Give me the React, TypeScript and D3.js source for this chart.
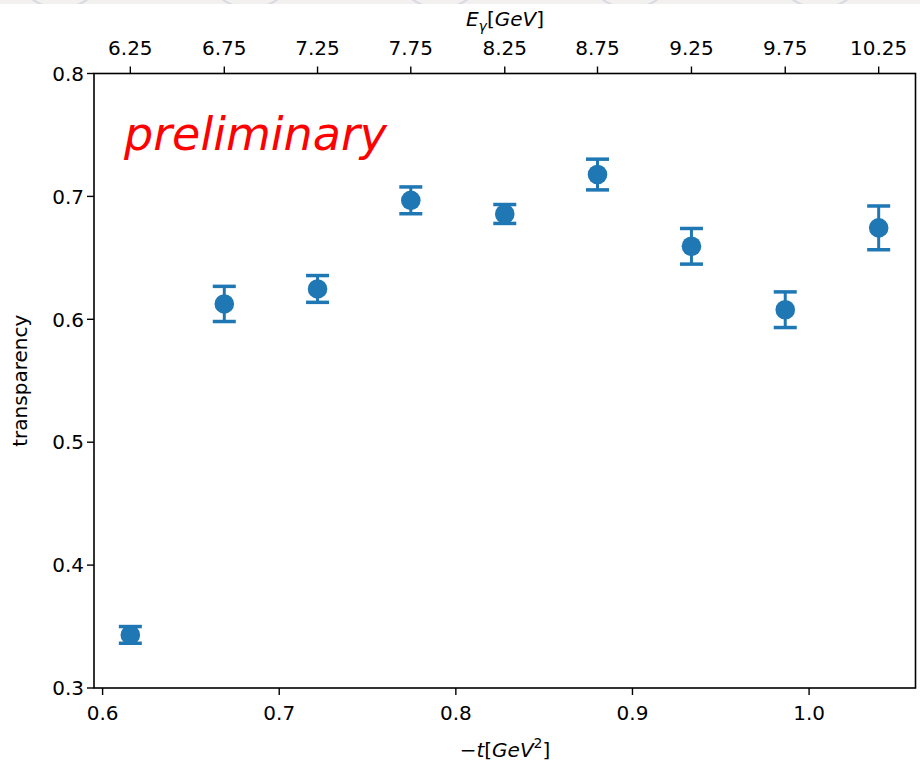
import React from "react";
import * as d3 from "d3";

const tValues = [0.6157, 0.6689, 0.7217, 0.7745, 0.8277, 0.8802, 0.9334, 0.9865, 1.0394];
const transparency = [0.3432, 0.6125, 0.6247, 0.6968, 0.6857, 0.7178, 0.6594, 0.6078, 0.6744];
const errors = [0.0068, 0.0143, 0.0109, 0.0109, 0.0077, 0.0125, 0.0145, 0.0145, 0.0178];
const energyLabels = ["6.25", "6.75", "7.25", "7.75", "8.25", "8.75", "9.25", "9.75", "10.25"];
const xTicks = [0.6, 0.7, 0.8, 0.9, 1.0];
const yTicks = [0.3, 0.4, 0.5, 0.6, 0.7, 0.8];

const W = 920;
const H = 768;
const left = 94;
const right = 915.5;
const top = 73.5;
const bottom = 688;
const FONT = "'DejaVu Sans', sans-serif";
const BLUE = "#1f77b4";

export default function App() {
  const x = d3.scaleLinear().domain([0.59513, 1.06025]).range([left, right]);
  const y = d3.scaleLinear().domain([0.3, 0.8]).range([bottom, top]);
  const fmt = d3.format(".1f");

  const bgCircles = [60, 250, 440, 630, 820];

  return (
    <svg
      width={W}
      height={H}
      viewBox={`0 0 ${W} ${H}`}
      style={{ position: "absolute", left: 0, top: 0, background: "#fff" }}
    >
      <defs>
        <clipPath id="band">
          <rect x={0} y={0} width={W} height={4} />
        </clipPath>
      </defs>
      <rect x={0} y={0} width={W} height={4} fill="#f2f1ef" />
      <g clipPath="url(#band)">
        {bgCircles.map((cx, i) => (
          <circle key={i} cx={cx} cy={-40} r={48} fill="none" stroke="#d9d9e3" strokeWidth={2} />
        ))}
      </g>

      {/* error bars and markers */}
      {tValues.map((t, i) => {
        const cx = x(t);
        const cy = y(transparency[i]);
        const y1 = y(transparency[i] + errors[i]);
        const y2 = y(transparency[i] - errors[i]);
        return (
          <g key={i}>
            <line x1={cx} x2={cx} y1={y1} y2={y2} stroke={BLUE} strokeWidth={3} />
            <line x1={cx - 11.5} x2={cx + 11.5} y1={y1} y2={y1} stroke={BLUE} strokeWidth={3.5} />
            <line x1={cx - 11.5} x2={cx + 11.5} y1={y2} y2={y2} stroke={BLUE} strokeWidth={3.5} />
            <circle cx={cx} cy={cy} r={9.8} fill={BLUE} />
          </g>
        );
      })}

      {/* spines */}
      <rect
        x={left}
        y={top}
        width={right - left}
        height={bottom - top}
        fill="none"
        stroke="#000"
        strokeWidth={1.6}
      />

      {/* bottom axis */}
      {xTicks.map((v) => (
        <g key={v}>
          <line x1={x(v)} x2={x(v)} y1={bottom} y2={bottom + 7} stroke="#000" strokeWidth={1.4} />
          <text x={x(v)} y={720} textAnchor="middle" fontFamily={FONT} fontSize={20} fill="#000">
            {fmt(v)}
          </text>
        </g>
      ))}

      {/* left axis */}
      {yTicks.map((v) => (
        <g key={v}>
          <line x1={left - 7} x2={left} y1={y(v)} y2={y(v)} stroke="#000" strokeWidth={1.4} />
          <text
            x={left - 10}
            y={y(v)}
            dy="0.36em"
            textAnchor="end"
            fontFamily={FONT}
            fontSize={20}
            fill="#000"
          >
            {fmt(v)}
          </text>
        </g>
      ))}

      {/* top axis */}
      {tValues.map((t, i) => (
        <g key={i}>
          <line x1={x(t)} x2={x(t)} y1={top - 7} y2={top} stroke="#000" strokeWidth={1.4} />
          <text x={x(t)} y={55} textAnchor="middle" fontFamily={FONT} fontSize={20} fill="#000">
            {energyLabels[i]}
          </text>
        </g>
      ))}

      {/* axis labels */}
      <text x={505} y={26} textAnchor="middle" fontFamily={FONT} fontSize={20} fill="#000">
        <tspan fontStyle="italic">E</tspan>
        <tspan fontStyle="italic" fontSize={14} dy={5}>γ</tspan>
        <tspan dy={-5}>[</tspan>
        <tspan fontStyle="italic">GeV</tspan>
        <tspan>]</tspan>
      </text>
      <text x={505} y={757} textAnchor="middle" fontFamily={FONT} fontSize={20} fill="#000">
        <tspan>−</tspan>
        <tspan fontStyle="italic">t</tspan>
        <tspan>[</tspan>
        <tspan fontStyle="italic">GeV</tspan>
        <tspan fontSize={14} dy={-9}>2</tspan>
        <tspan dy={9}>]</tspan>
      </text>
      <text
        transform={`translate(27, ${(top + bottom) / 2}) rotate(-90)`}
        textAnchor="middle"
        fontFamily={FONT}
        fontSize={20}
        fill="#000"
      >
        transparency
      </text>

      <text x={124} y={150} fontFamily={FONT} fontStyle="italic" fontSize={46} fill="#ff0000">
        preliminary
      </text>
    </svg>
  );
}
